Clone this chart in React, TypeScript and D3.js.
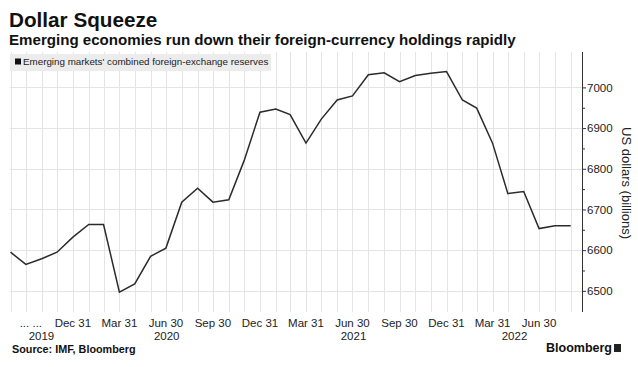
import { useEffect, useRef } from "react";
import * as d3 from "d3";

// month of each reading (month-end values)
const months = [
  "2019-08", "2019-09", "2019-10", "2019-11", "2019-12",
  "2020-01", "2020-02", "2020-03", "2020-04", "2020-05", "2020-06",
  "2020-07", "2020-08", "2020-09", "2020-10", "2020-11", "2020-12",
  "2021-01", "2021-02", "2021-03", "2021-04", "2021-05", "2021-06",
  "2021-07", "2021-08", "2021-09", "2021-10", "2021-11", "2021-12",
  "2022-01", "2022-02", "2022-03", "2022-04", "2022-05", "2022-06",
  "2022-07", "2022-08",
];

// Emerging markets' combined FX reserves, US$ bn
const reserves = [
  6595, 6565, 6579, 6595, 6632,
  6663, 6663, 6497, 6517, 6585, 6605,
  6718, 6752, 6718, 6724, 6820, 6939,
  6947, 6933, 6863, 6922, 6969, 6979,
  7031, 7036, 7014, 7029, 7035, 7039,
  6969, 6949, 6863, 6739, 6744, 6653,
  6660, 6660,
];

const xTickDates = [
  "2019-09", "2019-12", "2020-03", "2020-06", "2020-09", "2020-12",
  "2021-03", "2021-06", "2021-09", "2021-12", "2022-03", "2022-06",
];
const xTickLabels = [
  "... ...", "Dec 31", "Mar 31", "Jun 30", "Sep 30", "Dec 31",
  "Mar 31", "Jun 30", "Sep 30", "Dec 31", "Mar 31", "Jun 30",
];
const years = [2019, 2020, 2021, 2022];
const yMajor = [6500, 6600, 6700, 6800, 6900, 7000];
const yMinor = [6550, 6650, 6750, 6850, 6950];

const W = 638;
const H = 367;
const FONT = "'Liberation Sans', Arial, sans-serif";

const monthEnd = (s: string) => {
  const [y, m] = s.split("-").map(Number);
  return new Date(Date.UTC(y, m, 0));
};

const App = () => {
  const svgRef = useRef<SVGSVGElement>(null);

  useEffect(() => {
    if (!svgRef.current) return;
    const svg = d3.select(svgRef.current);
    svg.selectAll("*").remove();

    const plot = { left: 10, right: 582, top: 52, bottom: 312 };
    const data = months.map((m, i) => ({ date: monthEnd(m), value: reserves[i] }));

    const x = d3
      .scaleUtc()
      .domain([new Date(Date.UTC(2019, 7, 30)), new Date(Date.UTC(2022, 8, 22))])
      .range([plot.left, plot.right]);
    const y = d3.scaleLinear().domain([6448, 7087]).range([plot.bottom, plot.top]);

    svg.append("rect").attr("width", W).attr("height", H).attr("fill", "#fff");

    // grid
    const grid = svg.append("g").attr("stroke", "#e4e4e4").attr("stroke-width", 1);
    grid
      .selectAll(".vg")
      .data(data)
      .enter()
      .append("line")
      .attr("x1", d => Math.round(x(d.date)) + 0.5)
      .attr("x2", d => Math.round(x(d.date)) + 0.5)
      .attr("y1", plot.top)
      .attr("y2", plot.bottom);
    grid
      .selectAll(".hg")
      .data(yMajor)
      .enter()
      .append("line")
      .attr("x1", plot.left)
      .attr("x2", plot.right)
      .attr("y1", d => Math.round(y(d)) + 0.5)
      .attr("y2", d => Math.round(y(d)) + 0.5);

    // legend
    svg
      .append("rect")
      .attr("x", 10)
      .attr("y", 54)
      .attr("width", 261)
      .attr("height", 17)
      .attr("fill", "#ececec");
    svg
      .append("rect")
      .attr("x", 15)
      .attr("y", 58.5)
      .attr("width", 6)
      .attr("height", 6)
      .attr("fill", "#111");
    svg
      .append("text")
      .attr("x", 23)
      .attr("y", 65)
      .attr("font-family", FONT)
      .attr("font-size", 9.8)
      .attr("fill", "#222")
      .text("Emerging markets' combined foreign-exchange reserves");

    // line
    const line = d3
      .line<{ date: Date; value: number }>()
      .x(d => x(d.date))
      .y(d => y(d.value));
    svg
      .append("path")
      .datum(data)
      .attr("fill", "none")
      .attr("stroke", "#2b2b2b")
      .attr("stroke-width", 1.5)
      .attr("stroke-linejoin", "miter")
      .attr("d", line);

    // y axis on the right
    const yAxis = svg
      .append("g")
      .attr("transform", `translate(${plot.right},0)`)
      .call(
        d3
          .axisRight(y)
          .tickValues(yMajor)
          .tickSize(4)
          .tickPadding(1)
          .tickFormat(d => String(d))
      );
    yAxis.select(".domain").attr("d", `M0.5,${plot.top}V${plot.bottom}`).attr("stroke", "#333");
    yAxis.selectAll(".tick line").attr("stroke", "#333");
    yAxis
      .selectAll(".tick text")
      .attr("font-family", FONT)
      .attr("font-size", 11.5)
      .attr("fill", "#222");
    const minor = svg
      .append("g")
      .attr("transform", `translate(${plot.right},0)`)
      .call(d3.axisRight(y).tickValues(yMinor).tickSize(3).tickFormat(() => ""));
    minor.select(".domain").remove();
    minor.selectAll(".tick line").attr("stroke", "#333");

    svg
      .append("text")
      .attr("transform", `translate(622,183) rotate(90)`)
      .attr("text-anchor", "middle")
      .attr("font-family", FONT)
      .attr("font-size", 13)
      .attr("fill", "#222")
      .text("US dollars (billions)");

    // x labels
    const xl = svg.append("g").attr("font-family", FONT).attr("font-size", 11.5).attr("fill", "#222");
    xl.selectAll(".xt")
      .data(xTickDates)
      .enter()
      .append("text")
      .attr("x", d => x(monthEnd(d)))
      .attr("dx", (_, i) => (i === 0 ? 5 : 0))
      .attr("y", 327)
      .attr("text-anchor", "middle")
      .text((_, i) => xTickLabels[i]);
    const [d0, d1] = x.domain();
    xl.selectAll(".yr")
      .data(years)
      .enter()
      .append("text")
      .attr("x", yr => {
        const a = Math.max(+d0, Date.UTC(yr, 0, 1));
        const b = Math.min(+d1, Date.UTC(yr, 11, 31));
        return (x(new Date(a)) + x(new Date(b))) / 2;
      })
      .attr("y", 340)
      .attr("text-anchor", "middle")
      .text(yr => String(yr));

    // titles
    svg
      .append("text")
      .attr("x", 9)
      .attr("y", 27)
      .attr("font-family", FONT)
      .attr("font-size", 20.7)
      .attr("font-weight", "bold")
      .attr("fill", "#111")
      .text("Dollar Squeeze");
    svg
      .append("text")
      .attr("x", 9)
      .attr("y", 45)
      .attr("font-family", FONT)
      .attr("font-size", 15.1)
      .attr("font-weight", "bold")
      .attr("fill", "#111")
      .text("Emerging economies run down their foreign-currency holdings rapidly");

    // footer
    svg
      .append("text")
      .attr("x", 12)
      .attr("y", 353)
      .attr("font-family", FONT)
      .attr("font-size", 10.8)
      .attr("font-weight", "bold")
      .attr("fill", "#111")
      .text("Source: IMF, Bloomberg");
    svg
      .append("text")
      .attr("x", 612)
      .attr("y", 352)
      .attr("text-anchor", "end")
      .attr("font-family", FONT)
      .attr("font-size", 12.5)
      .attr("font-weight", "bold")
      .attr("fill", "#111")
      .text("Bloomberg");
    svg
      .append("rect")
      .attr("x", 614)
      .attr("y", 344)
      .attr("width", 7)
      .attr("height", 8)
      .attr("fill", "#222");
  }, []);

  return (
    <svg
      ref={svgRef}
      width={W}
      height={H}
      style={{ position: "absolute", left: 0, top: 0, display: "block" }}
    />
  );
};

export default App;
